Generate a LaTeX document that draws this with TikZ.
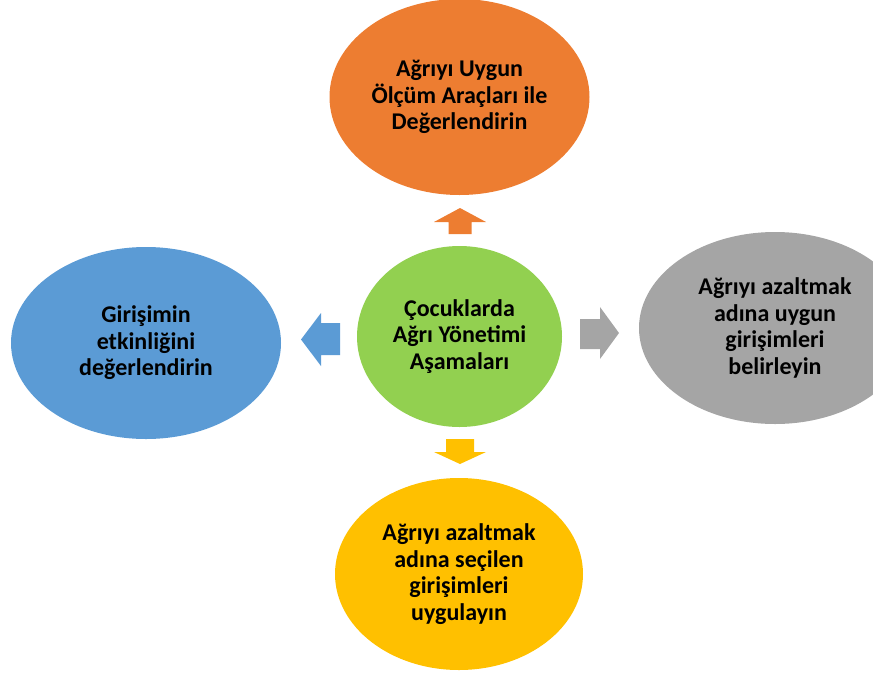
\documentclass[tikz,border=0pt]{standalone}
\usepackage{fontspec}
\setmainfont{Carlito}
\usetikzlibrary{shapes.geometric}
\definecolor{cOrange}{HTML}{ED7D31}
\definecolor{cGreen}{HTML}{92D050}
\definecolor{cBlue}{HTML}{5B9BD5}
\definecolor{cGray}{HTML}{A5A5A5}
\definecolor{cYellow}{HTML}{FFC000}
\tikzset{
  blob/.style={ellipse, inner sep=0pt, align=center, text=black,
    font=\fontsize{24}{26.5}\selectfont\bfseries},
}
\begin{document}
\begin{tikzpicture}[x=1pt,y=-1pt]
\useasboundingbox (0,0) rectangle (873,675);
\begin{scope}
\clip (0,0) rectangle (873,675);
\node[blob, fill=cOrange, minimum width=260pt, minimum height=196pt] (top) at (459.5,97) {Ağrıyı Uygun\\Ölçüm Araçları ile\\Değerlendirin};
\node[blob, fill=cGreen, minimum width=205pt, minimum height=181pt] (mid) at (459.5,336.5) {Çocuklarda\\Ağrı Yönetimi\\Aşamaları};
\node[blob, fill=cBlue, minimum width=270pt, minimum height=192pt] (left) at (146,343) {Girişimin\\etkinliğini\\değerlendirin};
\node[blob, fill=cGray, minimum width=272pt, minimum height=192pt] (right) at (775,328) {Ağrıyı azaltmak\\adına uygun\\girişimleri\\belirleyin};
\node[blob, fill=cYellow, minimum width=248pt, minimum height=192pt] (bot) at (459,574) {Ağrıyı azaltmak\\adına seçilen\\girişimleri\\uygulayın};
\end{scope}
% block arrows
\fill[cOrange] (448.5,234) -- (448.5,222) -- (434,222) -- (460,208) -- (486,222) -- (471.5,222) -- (471.5,234) -- cycle;
\fill[cYellow] (446,439) -- (446,452) -- (434,452) -- (460,464) -- (486,452) -- (474,452) -- (474,439) -- cycle;
\fill[cBlue] (340,323) -- (321,323) -- (321,313) -- (301,339.5) -- (321,366) -- (321,355) -- (340,355) -- cycle;
\fill[cGray] (580,319) -- (600,319) -- (600,307) -- (619,333) -- (600,359) -- (600,349) -- (580,349) -- cycle;
\end{tikzpicture}
\end{document}
